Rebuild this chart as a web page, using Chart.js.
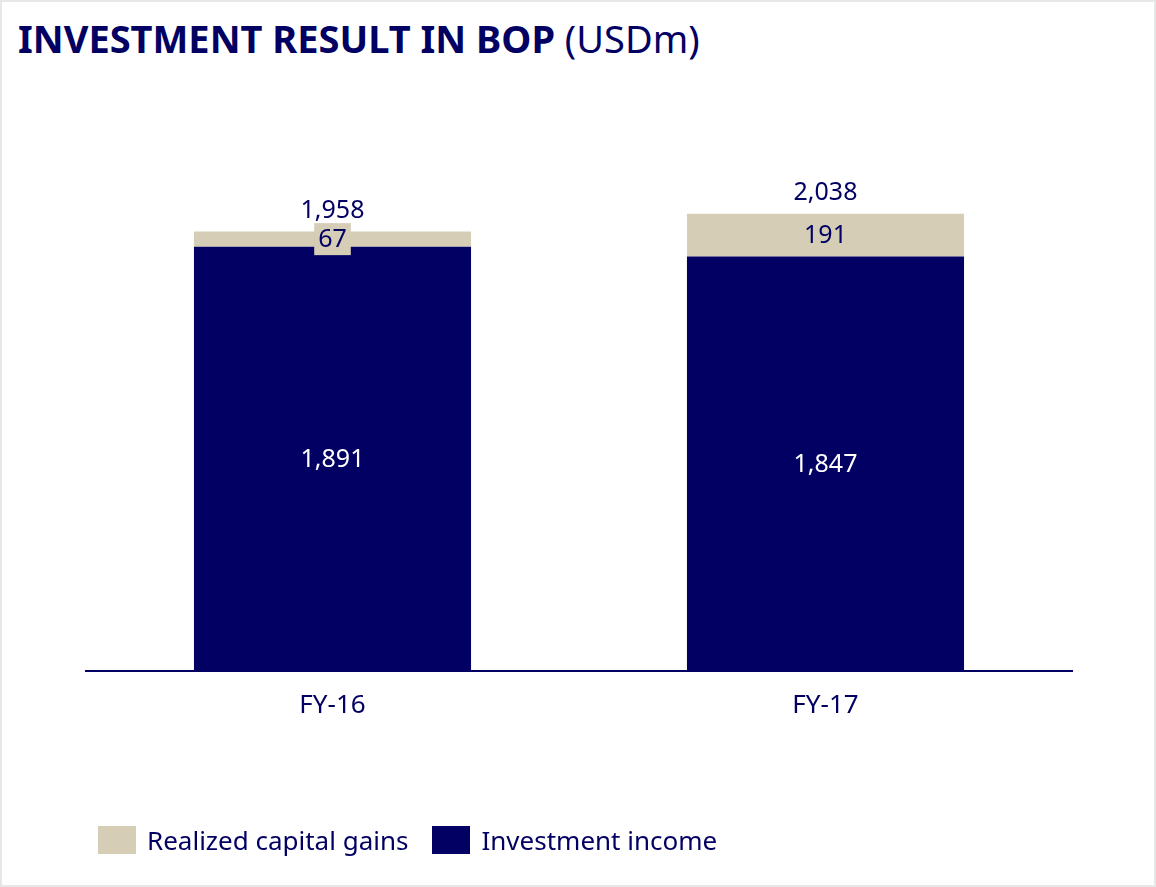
<!DOCTYPE html>
<html>
<head>
<meta charset="utf-8">
<script src="https://cdn.jsdelivr.net/npm/chart.js@4.4.1/dist/chart.umd.min.js"></script>
<style>
  html, body { margin: 0; padding: 0; background: #fff; }
  #frame {
    position: relative; width: 1156px; height: 887px; box-sizing: border-box;
    border: 2px solid #e6e8e8; background: #fff; overflow: hidden;
    font-family: "Noto Sans", "Open Sans", sans-serif; color: #020062;
  }
  #title {
    position: absolute; left: 16px; top: 10px; font-size: 38px; white-space: nowrap;
  }
  #title b { font-weight: 700; }
  #wrap { position: absolute; left: -2px; top: -2px; width: 1156px; height: 887px; }
  #legend {
    position: absolute; left: 96px; top: 820px; display: flex; align-items: center;
    font-size: 26px; white-space: nowrap;
  }
  .item { display: flex; align-items: center; margin-right: 24px; }
  .sw { width: 38px; height: 28px; margin-right: 11px; }
</style>
</head>
<body>
<div id="frame">
  <div id="title"><b>INVESTMENT RESULT IN BOP</b> (USDm)</div>
  <div id="wrap"><canvas id="c"></canvas></div>
  <div id="legend"></div>
</div>
<script>
// ---- data ----
const categories = ["FY-16", "FY-17"];
const investmentIncome = [1891, 1847];
const realizedGains = [67, 191];
const totals = [1958, 2038];

const NAVY = "#020062";
const BEIGE = "#d5cdb5";
const FONT = '"Noto Sans", "Open Sans", sans-serif';

const fmt = (v) => v.toLocaleString("en-US");

// Segment values in the middle of each block, totals above each stack.
const stackLabels = {
  id: "stackLabels",
  afterDatasetsDraw(chart) {
    const { ctx } = chart;
    ctx.save();
    ctx.font = "25px " + FONT;
    ctx.textAlign = "center";
    ctx.textBaseline = "middle";
    chart.data.datasets.forEach((ds, di) => {
      const meta = chart.getDatasetMeta(di);
      meta.data.forEach((bar, i) => {
        const y = (bar.y + bar.base) / 2;
        const text = fmt(ds.data[i]);
        if (ds.labelBox) {
          const w = ctx.measureText(text).width + 8;
          ctx.fillStyle = ds.backgroundColor;
          ctx.fillRect(bar.x - w / 2, y - 16, w, 32);
        }
        ctx.fillStyle = ds.labelColor;
        ctx.fillText(text, bar.x, y + 1);
      });
    });
    const top = chart.getDatasetMeta(chart.data.datasets.length - 1);
    top.data.forEach((bar, i) => {
      ctx.fillStyle = NAVY;
      ctx.fillText(fmt(totals[i]), bar.x, bar.y - 21);
    });
    ctx.restore();
  },
};

const datasets = [
  { label: "Investment income", data: investmentIncome, backgroundColor: NAVY, labelColor: "#ffffff" },
  { label: "Realized capital gains", data: realizedGains, backgroundColor: BEIGE, labelColor: NAVY, labelBox: true },
];

new Chart(document.getElementById("c"), {
  type: "bar",
  data: {
    labels: categories,
    datasets: datasets.map((d) => ({
      ...d,
      categoryPercentage: 1,
      barPercentage: 0.562,
      borderWidth: 0,
    })),
  },
  options: {
    responsive: true,
    maintainAspectRatio: false,
    animation: false,
    layout: { padding: { left: 86, right: 84, top: 110, bottom: 0 } },
    scales: {
      x: {
        stacked: true,
        grid: { display: false },
        border: { display: true, color: NAVY, width: 2 },
        ticks: { color: NAVY, font: { family: FONT, size: 26 }, padding: 11 },
        afterFit: (s) => { s.height = 887 - 671; },
      },
      y: { stacked: true, display: false, min: 0, max: 2500 },
    },
    plugins: { legend: { display: false }, tooltip: { enabled: false } },
  },
  plugins: [stackLabels],
});

// legend: gains first, as in the reference
const legend = document.getElementById("legend");
[datasets[1], datasets[0]].forEach((d) => {
  const el = document.createElement("div");
  el.className = "item";
  el.innerHTML = `<span class="sw" style="background:${d.backgroundColor}"></span>${d.label}`;
  legend.appendChild(el);
});
</script>
</body>
</html>
